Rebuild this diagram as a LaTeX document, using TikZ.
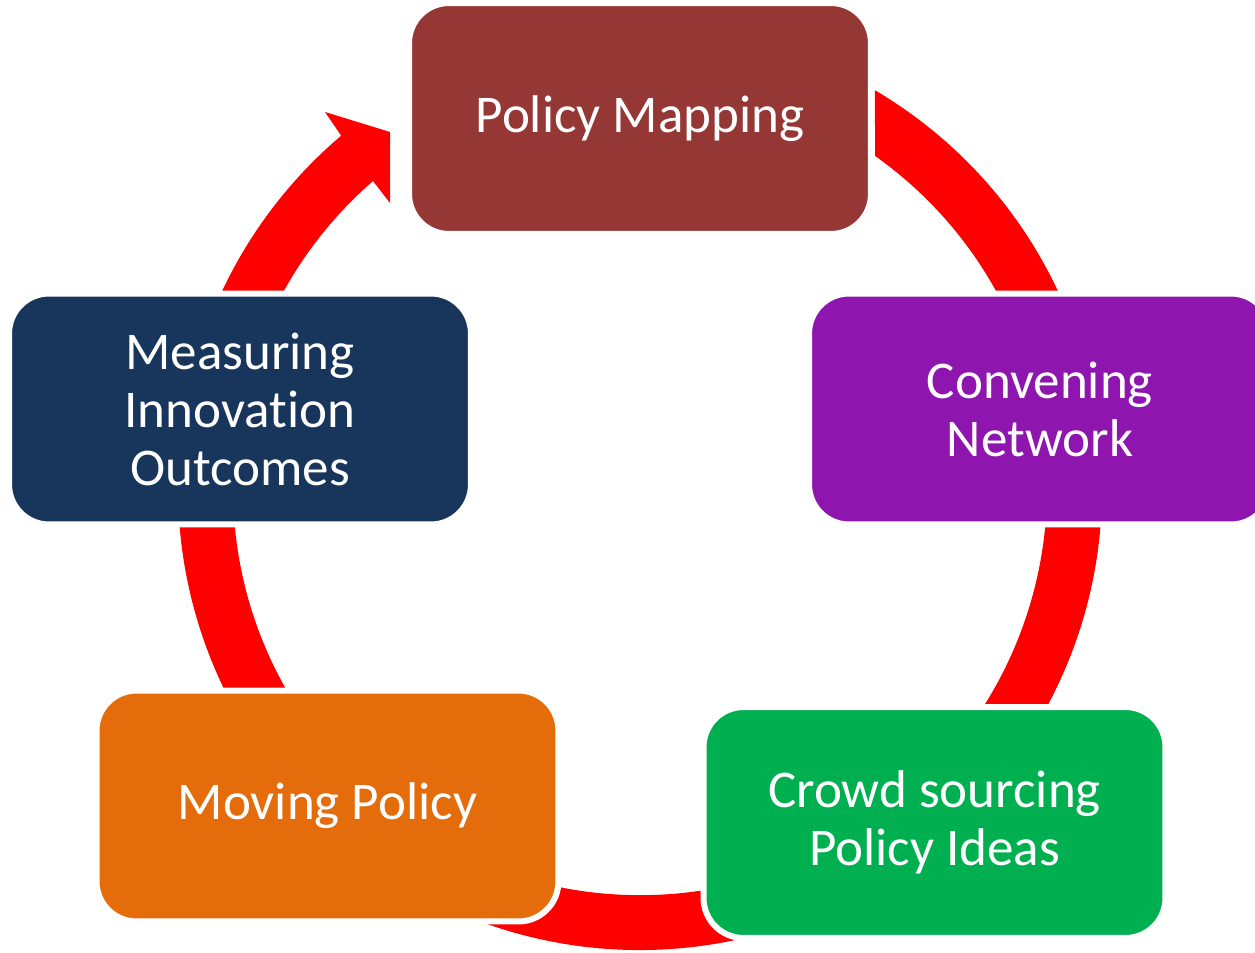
\documentclass[tikz,border=0pt]{standalone}
\usepackage{fontspec}
\setmainfont{Carlito}[Ligatures={NoCommon}]
\usetikzlibrary{calc}
\definecolor{pmred}{HTML}{953735}
\definecolor{cnpurple}{HTML}{8E16AE}
\definecolor{csgreen}{HTML}{00B050}
\definecolor{mporange}{HTML}{E46C0A}
\definecolor{minavy}{HTML}{18365C}
\definecolor{ringred}{HTML}{FF0000}
\tikzset{
  stagebox/.style={rounded corners=0.8cm, draw=white, line width=0.12cm,
    minimum width=9.24cm, minimum height=4.62cm, inner sep=0pt,
    text=white, align=center,
    font=\fontsize{30.2pt}{33pt}\selectfont},
  ring/.style={fill=ringred}
}
\begin{document}
\begin{tikzpicture}[x=0.02cm,y=-0.02cm]
\useasboundingbox (0,0) rectangle (1255,953);
\clip (0,0) rectangle (1255,953);
\coordinate (c) at (640,488);
% red cycle ring with arrowhead
\fill[ring] ($(c)+(-59.43:462)$) arc[start angle=-59.43, end angle=229.7, radius=462]
  -- (325,112) -- (390,132) -- (390,203) -- (373,181)
  arc[start angle=229, end angle=-54.73, radius=407] -- cycle;
% stages
\node[stagebox, fill=pmred]    (pm) at (640,118.5) {\raisebox{-0.05cm}{Policy Mapping}};
\node[stagebox, fill=cnpurple] (cn) at (1040,409)  {Convening\\Network};
\node[stagebox, fill=csgreen]  (cs) at (934.5,822.5) {Crowd sourcing\\Policy Ideas};
\node[stagebox, fill=mporange] (mp) at (327.5,806) {\raisebox{-0.05cm}{Moving Policy}};
\node[stagebox, fill=minavy]   (mi) at (240,409)   {Measuring\\Innovation\\Outcomes};
\end{tikzpicture}
\end{document}
